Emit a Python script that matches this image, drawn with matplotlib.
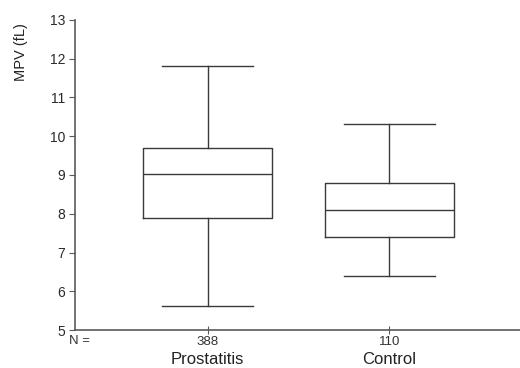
import matplotlib
matplotlib.use('Agg')
import matplotlib.pyplot as plt
import matplotlib.transforms as mtransforms

plt.rcParams['font.family'] = ['Liberation Sans', 'DejaVu Sans']

# ---- data ----
groups  = ['Prostatitis', 'Control']
n_cases = [388, 110]
whislo  = [5.63, 6.40]
q1      = [7.90, 7.40]
med     = [9.02, 8.10]
q3      = [9.70, 8.80]
whishi  = [11.81, 10.32]

line_col = '#3a3a3a'
axis_col = '#5a5a5a'

fig = plt.figure(figsize=(5.2, 3.68), dpi=100)
ax = fig.add_axes([0.144, 0.103, 0.856, 0.843])

stats = []
for i in range(len(groups)):
    stats.append(dict(label=str(n_cases[i]), whislo=whislo[i], q1=q1[i],
                      med=med[i], q3=q3[i], whishi=whishi[i], fliers=[]))

ax.bxp(stats, positions=[1, 2], widths=0.71, capwidths=0.5, showfliers=False,
       boxprops=dict(color=line_col, linewidth=1.0),
       medianprops=dict(color=line_col, linewidth=1.0),
       whiskerprops=dict(color=line_col, linewidth=1.0),
       capprops=dict(color=line_col, linewidth=1.0))

ax.set_xlim(0.27, 2.72)
ax.set_ylim(5, 13)
ax.set_yticks(range(5, 14))

for s in ['top', 'right']:
    ax.spines[s].set_visible(False)
for s in ['left', 'bottom']:
    ax.spines[s].set_color(axis_col)
    ax.spines[s].set_linewidth(1.2)

ax.tick_params(axis='y', direction='out', length=4, color=axis_col, labelsize=10, pad=3,
               labelcolor='#2a2a2a')
ax.tick_params(axis='x', direction='inout', length=6, color=axis_col, labelsize=9.5, pad=1,
               labelcolor='#333333')

trans = mtransforms.blended_transform_factory(ax.transData, fig.transFigure)
for i, g in enumerate(groups):
    ax.text(i + 1, 1 - 360 / 368, g, transform=trans, ha='center', va='center',
            fontsize=12, color='#222222')

fig.text(69 / 520, 1 - 341 / 368, 'N =', ha='left', va='center', fontsize=9.5, color='#333333')
fig.text(21 / 520, 1 - 52 / 368, 'MPV (fL)', rotation=90, ha='center', va='center',
         fontsize=10.5, color='#222222')

plt.savefig('out.png', dpi=100)
